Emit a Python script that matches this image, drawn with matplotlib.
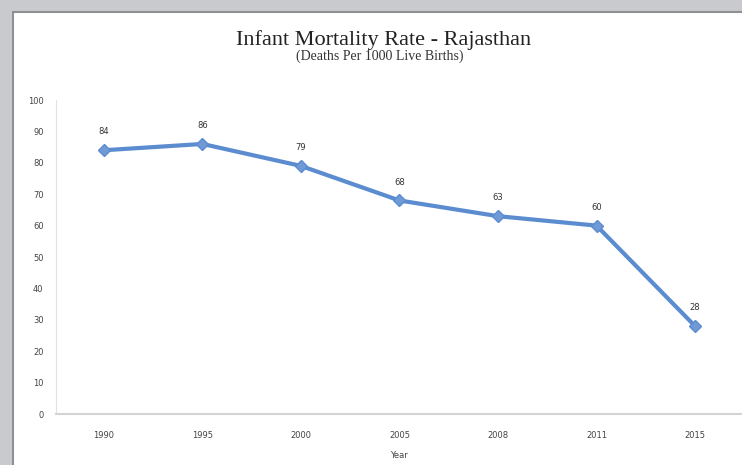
import matplotlib.pyplot as plt
from matplotlib.patches import Rectangle

years = ['1990', '1995', '2000', '2005', '2008', '2011', '2015']
imr = [84, 86, 79, 68, 63, 60, 28]

fig = plt.figure(figsize=(7.42, 4.65), dpi=100)
fig.patch.set_facecolor('#c8cacd')

# white chart panel with dark border on left/top
panel = Rectangle((13 / 742, -0.01), 1, 1.01 - 12 / 465, transform=fig.transFigure,
                  facecolor='white', edgecolor='#8e9093', linewidth=1.5, zorder=-10)
fig.patches.append(panel)

ax = fig.add_axes([56 / 742, 1 - 414 / 465, 1 - 56 / 742, (414 - 100) / 465])
ax.set_facecolor('none')

x = list(range(len(years)))
ax.plot(x, imr, color='#5b8cd0', linewidth=3, marker='D', markersize=6,
        markerfacecolor='#6f9ad6', markeredgecolor='#5b8cd0', zorder=3)

for xi, v in zip(x, imr):
    ax.annotate(str(v), (xi, v), xytext=(0, 10), textcoords='offset points',
                ha='center', va='bottom', fontsize=6, color='#333333')

ax.set_xlim(-0.487, 6.477)
ax.set_ylim(0, 100)
ax.set_xticks(x)
ax.set_xticklabels(years)
ax.set_yticks(range(0, 101, 10))
ax.tick_params(axis='both', length=0, labelsize=6, labelcolor='#444444')
ax.tick_params(axis='x', pad=12)
ax.tick_params(axis='y', pad=9)

for s in ['top', 'right']:
    ax.spines[s].set_visible(False)
ax.spines['left'].set_color('#e2e2e2')
ax.spines['bottom'].set_color('#d4d4d4')
ax.spines['bottom'].set_linewidth(1.5)

ax.set_xlabel('Year', fontsize=6, color='#444444', labelpad=8)

fig.text(384 / 742, 1 - 40 / 465, 'Infant Mortality Rate - Rajasthan',
         ha='center', va='center', fontsize=16, family='Liberation Serif', color='#222222')
fig.text(380 / 742, 1 - 56 / 465, '(Deaths Per 1000 Live Births)',
         ha='center', va='center', fontsize=10, family='Liberation Serif', color='#333333')

plt.savefig('out.png', dpi=100, facecolor=fig.get_facecolor())
